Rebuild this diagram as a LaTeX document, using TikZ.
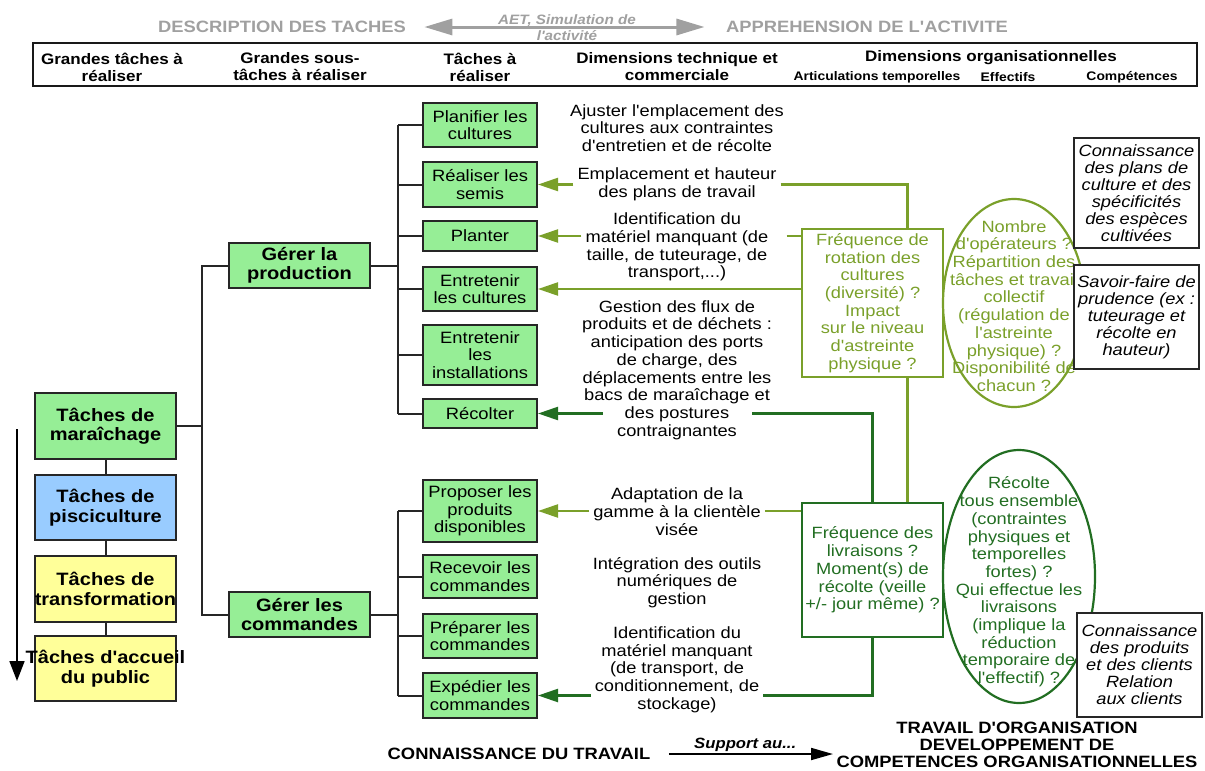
\documentclass[tikz,border=0pt]{standalone}
\usepackage{fontspec}
\setmainfont{Liberation Sans}[FakeStretch=1.12, Ligatures=TeXOff]
\usetikzlibrary{arrows.meta,shapes.geometric}

\definecolor{vertclair}{RGB}{150,238,150}
\definecolor{bleuclair}{RGB}{153,204,255}
\definecolor{jauneclair}{RGB}{255,255,153}
\definecolor{vertolive}{RGB}{122,160,42}
\definecolor{vertfonce}{RGB}{34,110,34}
\definecolor{grisclair}{RGB}{160,160,160}

\newcommand{\fcorps}{\fontsize{16.3}{17.7}\selectfont}
\newcommand{\ftache}{\fontsize{16.4}{17.3}\selectfont}
\newcommand{\fgras}{\bfseries\fontsize{17.9}{19.5}\selectfont}
\newcommand{\fentete}{\bfseries\fontsize{15.2}{17}\selectfont}
\newcommand{\fsousentete}{\bfseries\fontsize{12.4}{14}\selectfont}
\newcommand{\ftitre}{\bfseries\fontsize{16.4}{18}\selectfont}
\newcommand{\faet}{\bfseries\itshape\fontsize{13.6}{16}\selectfont}
\newcommand{\fbas}{\bfseries\fontsize{16.4}{17}\selectfont}
\newcommand{\fital}{\itshape\fontsize{16.3}{17}\selectfont}
\newcommand{\fsupport}{\bfseries\itshape\fontsize{14.9}{17}\selectfont}

\begin{document}
\begin{tikzpicture}[x=1pt,y=-1pt,
	boite/.style={draw=black!85, line width=2pt, align=center, inner sep=1pt},
	grandetache/.style={boite, minimum width=141pt, font=\fgras},
	soustache/.style={boite, fill=vertclair, minimum width=141pt, minimum height=45pt, font=\fgras},
	tache/.style={boite, fill=vertclair, minimum width=114pt, font=\ftache},
	dimtexte/.style={align=center, font=\fcorps, inner sep=4pt},
	orga/.style={draw, line width=2.2pt, align=center, minimum width=141pt, font=\fcorps, inner sep=1pt},
	comp/.style={boite, fill=white, minimum width=125pt, font=\fital},
	lien/.style={line width=2pt, black!85},
	trait/.style={line width=2.3pt},
	fleche/.style={line width=2.3pt, -{Triangle[length=20pt,width=13pt]}},
	]
	\useasboundingbox (0,0) rectangle (1205,771);

	% titres et en-tete
	\node[font=\ftitre, text=grisclair] (descTache) at (282,27) {DESCRIPTION DES TACHES};
	\node[font=\ftitre, text=grisclair] (apprAct) at (867,27) {APPREHENSION DE L'ACTIVITE};
	\node[font=\faet, text=grisclair, align=center] (aet) at (567,28) {AET, Simulation de\\l'activité};
	\draw[grisclair, line width=3pt, {Triangle[length=28pt,width=16pt]}-{Triangle[length=28pt,width=16pt]},
		shorten <=15pt, shorten >=18pt] (descTache.east) -- (apprAct.west);

	\node[draw=black!90, line width=2.5pt, minimum width=1164pt, minimum height=43pt, inner sep=0pt] (entete) at (615,64.5) {};
	\node[font=\fentete, align=center] (hGrandes) at (112,67) {Grandes tâches à\\réaliser};
	\node[font=\fentete, align=center] (hSous) at (300,67) {Grandes sous-\\tâches à réaliser};
	\node[font=\fentete, align=center] (hTaches) at (480,67) {Tâches à\\réaliser};
	\node[font=\fentete, align=center] (hTech) at (677,67) {Dimensions technique et\\commerciale};
	\node[font=\fentete] (hOrga) at (991,58) {Dimensions organisationnelles};
	\node[font=\fsousentete] (hTemp) at (877,77) {Articulations temporelles};
	\node[font=\fsousentete] (hEff) at (1008,77) {Effectifs};
	\node[font=\fsousentete] (hComp) at (1132,77) {Compétences};

	% grandes taches
	\node[grandetache, fill=vertclair, minimum height=66pt] (maraichage) at (105.5,426) {Tâches de\\maraîchage};
	\node[grandetache, fill=bleuclair, minimum height=65pt] (pisciculture) at (105.5,507.5) {Tâches de\\pisciculture};
	\node[grandetache, fill=jauneclair, minimum height=66pt] (transformation) at (105.5,589) {Tâches de\\\makebox[139pt]{transformation}};
	\node[grandetache, fill=jauneclair, minimum height=65pt] (accueil) at (105.5,668.5) {\makebox[139pt]{Tâches d'accueil}\\du public};
	\draw[lien] (maraichage) -- (pisciculture) -- (transformation) -- (accueil);
	\coordinate (ordreHaut) at (17,429);
	\coordinate (ordreBas) at (17,681);
	\draw[line width=1.8pt, -{Triangle[length=20pt,width=15pt]}] (ordreHaut) -- (ordreBas);

	% sous-taches
	\node[soustache] (production) at (299.5,265.5) {Gérer la\\production};
	\node[soustache] (commandes) at (299.5,614.5) {Gérer les\\commandes};
	\draw[lien] (maraichage.east) -- ++(25,0) coordinate (jA);
	\draw[lien] (production.west) -| (jA) |- (commandes.west);

	% taches
	\node[tache, minimum height=44pt] (planifier) at (480,125) {Planifier les\\cultures};
	\node[tache, minimum height=45pt] (semis) at (480,184.5) {Réaliser les\\semis};
	\node[tache, minimum height=30pt] (planter) at (480,236) {Planter};
	\node[tache, minimum height=44pt] (entCult) at (480,289) {Entretenir\\les cultures};
	\node[tache, minimum height=60pt] (entInst) at (480,355) {Entretenir\\les\\installations};
	\node[tache, minimum height=29pt] (recolter) at (480,413.5) {Récolter};
	\node[tache, minimum height=62pt] (proposer) at (480,511) {Proposer les\\produits\\disponibles};
	\node[tache, minimum height=43pt] (recevoir) at (480,576.5) {Recevoir les\\commandes};
	\node[tache, minimum height=44pt] (preparer) at (480,636) {Préparer les\\commandes};
	\node[tache, minimum height=45pt] (expedier) at (480,695.5) {Expédier les\\commandes};

	\draw[lien] (production.east) -- ++(27,0) coordinate (jB);
	\draw[lien] (jB |- planifier) -- (jB |- recolter);
	\foreach \t in {planifier,semis,planter,entCult,entInst,recolter}
		\draw[lien] (jB |- \t) -- (\t.west);
	\draw[lien] (commandes.east) -- ++(27,0) coordinate (jC);
	\draw[lien] (jC |- proposer) -- (jC |- expedier);
	\foreach \t in {proposer,recevoir,preparer,expedier}
		\draw[lien] (jC |- \t) -- (\t.west);

	% dimensions technique et commerciale
	\node[dimtexte] (dimPlanif) at (677,128) {Ajuster l'emplacement des\\cultures aux contraintes\\d'entretien et de récolte};
	\node[dimtexte] (dimSemis) at (677,184.5) {Emplacement et hauteur\\des plans de travail};
	\node[dimtexte] (dimPlanter) at (677,247) {Identification du\\matériel manquant (de\\taille, de tuteurage, de\\transport,...)};
	\node[dimtexte] (dimFlux) at (677,370) {Gestion des flux de\\produits et de déchets :\\anticipation des ports\\de charge, des\\déplacements entre les\\bacs de maraîchage et\\des postures\\contraignantes};
	\node[dimtexte] (dimGamme) at (677,511.5) {Adaptation de la\\gamme à la clientèle\\visée};
	\node[dimtexte] (dimOutils) at (677,582.5) {Intégration des outils\\numériques de\\gestion};
	\node[dimtexte] (dimExp) at (677,669.5) {Identification du\\matériel manquant\\(de transport, de\\conditionnement, de\\stockage)};

	% articulations temporelles
	\node[orga, draw=vertolive, text=vertolive, minimum height=148pt] (freqRot) at (872.5,303) {Fréquence de\\rotation des\\cultures\\(diversité) ?\\Impact\\sur le niveau\\d'astreinte\\physique ?};
	\node[orga, draw=vertfonce, text=vertfonce, minimum height=134pt] (freqLiv) at (872.5,570) {Fréquence des\\livraisons ?\\Moment(s) de\\récolte (veille\\+/- jour même) ?};

	\draw[fleche, vertolive] (dimSemis.west |- semis) -- (semis.east);
	\draw[trait, vertolive] (dimSemis.east) -| ([xshift=35pt]freqRot.north);
	\draw[fleche, vertolive] (dimPlanter.west |- planter) -- (planter.east);
	\draw[trait, vertolive] ([xshift=14pt]dimPlanter.east |- planter) -- (freqRot.west |- planter);
	\draw[fleche, vertolive] (freqRot.west |- entCult) -- (entCult.east);
	\draw[fleche, vertfonce] ([xshift=25pt]dimFlux.west |- recolter) -- (recolter.east);
	\draw[trait, vertfonce] ([xshift=-24pt]dimFlux.east |- recolter) -| (freqLiv.north);
	\draw[fleche, vertolive] (dimGamme.west |- proposer) -- (proposer.east);
	\draw[trait, vertolive] (dimGamme.east |- proposer) -- (freqLiv.west |- proposer);
	\draw[fleche, vertfonce] (dimExp.west |- expedier) -- (expedier.east);
	\draw[trait, vertfonce] (dimExp.east |- expedier) -| (freqLiv.south);
	\draw[trait, vertolive] ([xshift=35pt]freqRot.south) -- ([xshift=35pt]freqLiv.north);

	% effectifs
	\node[ellipse, draw=vertolive, line width=2.2pt, minimum width=142pt, minimum height=208pt] (ellRot) at (1014,303) {};
	\node[align=center, font=\fcorps, text=vertolive] (effRot) at (1014,306) {Nombre\\d'opérateurs ?\\Répartition des\\tâches et travail\\collectif\\(régulation de\\l'astreinte\\physique) ?\\Disponibilité de\\chacun ?};
	\node[ellipse, draw=vertfonce, line width=2.2pt, minimum width=152pt, minimum height=253pt] (ellLiv) at (1019,576.5) {};
	\node[align=center, font=\fcorps, text=vertfonce] (effLiv) at (1019,582) {Récolte\\tous ensemble\\(contraintes\\physiques et\\temporelles\\fortes) ?\\Qui effectue les\\livraisons\\(implique la\\réduction\\temporaire de\\l'effectif) ?};

	% competences
	\node[comp, minimum height=110pt] (compCult) at (1136.5,193) {Connaissance\\des plans de\\culture et des\\spécificités\\des espèces\\cultivées};
	\node[comp, minimum height=104pt] (compPrud) at (1136.5,317) {Savoir-faire de\\prudence (ex :\\tuteurage et\\récolte en\\hauteur)};
	\node[comp, minimum height=104pt] (compClient) at (1139.5,665) {Connaissance\\des produits\\et des clients\\Relation\\aux clients};

	% bas de page
	\node[font=\fbas] (connTrav) at (519,754) {CONNAISSANCE DU TRAVAIL};
	\node[font=\fbas, align=center] (travOrg) at (1017,745) {TRAVAIL D'ORGANISATION\\DEVELOPPEMENT DE\\COMPETENCES ORGANISATIONNELLES};
	\draw[line width=1.8pt, -{Triangle[length=22pt,width=12pt]}, shorten <=15pt]
		(connTrav.east) -- (connTrav.east -| travOrg.west)
		node[pos=0.51, above, inner sep=2pt, font=\fsupport] (support) {Support au...};
\end{tikzpicture}
\end{document}
